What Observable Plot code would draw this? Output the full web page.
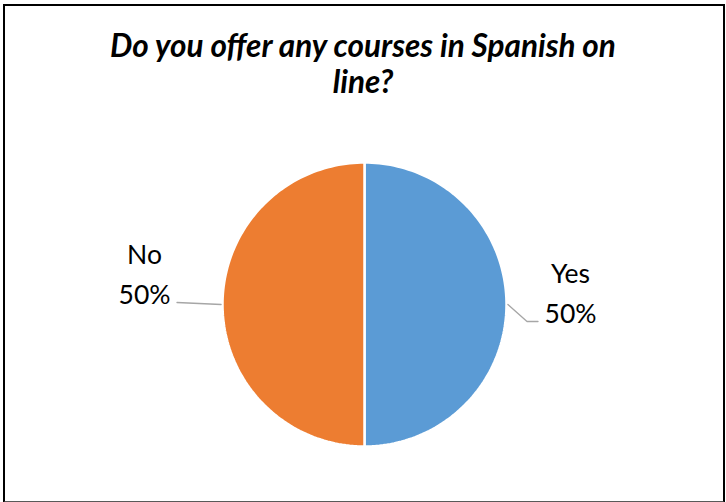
<!DOCTYPE html>
<html>
<head>
<meta charset="utf-8">
<script src="https://cdn.jsdelivr.net/npm/d3@7"></script>
<script src="https://cdn.jsdelivr.net/npm/@observablehq/plot@0.6"></script>
<style>
  html, body { margin: 0; padding: 0; background: #fff; }
  #wrap { position: relative; width: 726px; height: 502px; overflow: hidden; font-family: Lato, "Open Sans", sans-serif; }
  #chart { position: absolute; left: 0; top: 0; }
  #title { position: absolute; left: 0; top: 27px; width: 726px; text-align: center; font-weight: bold; font-style: italic;
           font-size: 31.5px; line-height: 36px; color: #000; white-space: pre-line; }
  #border { position: absolute; left: 3px; top: 4px; width: 718px; height: 495px; border: 2px solid #000; border-bottom-color: #595959; pointer-events: none; }
</style>
</head>
<body>
<div id="wrap">
  <div id="chart"></div>
  <div id="title"></div>
  <div id="border"></div>
</div>
<script>
// ---- data ----
const titleLines = ["Do you offer any courses in Spanish on", "line?"];
const categories = ["Yes", "No"];
const values = [50, 50];
const percentLabels = ["50%", "50%"];

// ---- styles / layout ----
const sliceColors = ["#5B9BD5", "#ED7D31"];
const W = 726, H = 502;
const cx = 364, cy = 304, R = 142;
const labelRadius = 1.5;
const fontSize = 26.5;

document.getElementById("title").textContent = titleLines.join("\n");

const data = categories.map((c, i) => ({cat: c, value: values[i], pct: percentLabels[i]}));
const arcs = d3.pie().sort(null).value(d => d.value)(data);

// slice polygons (unit circle, angle 0 at 12 o'clock, clockwise)
const slicePts = arcs.flatMap(a => {
  const pts = [{cat: a.data.cat, x: 0, y: 0}];
  const n = 120;
  for (let i = 0; i <= n; i++) {
    const t = a.startAngle + (a.endAngle - a.startAngle) * i / n;
    pts.push({cat: a.data.cat, x: Math.sin(t), y: Math.cos(t)});
  }
  return pts;
});

// labels
const nudges = {right: {dx: -7, dy: -14}, left: {dx: -7, dy: -33}};
const labels = arcs.map(a => {
  const m = (a.startAngle + a.endAngle) / 2;
  const side = Math.sin(m) >= 0 ? "right" : "left";
  const px = cx + labelRadius * R * Math.sin(m) + nudges[side].dx;
  const py = cy - labelRadius * R * Math.cos(m) + nudges[side].dy;
  return {cat: a.data.cat, text: `${a.data.cat}\n${a.data.pct}`, side, m, px, py,
          x: (px - cx) / R, y: (cy - py) / R};
});

// leader lines from slice edge to label
const halfText = 27.5, gap = 5, drop = 31;
const leaders = labels.flatMap(l => {
  const edge = {x: 1.01 * Math.sin(l.m), y: 1.01 * Math.cos(l.m)};
  const endPx = l.side === "right" ? l.px - halfText - gap : l.px + halfText + gap;
  const endPy = l.py + drop;
  const end = {x: (endPx - cx) / R, y: (cy - endPy) / R};
  const pts = [{cat: l.cat, ...edge}];
  if (l.side === "right") pts.push({cat: l.cat, x: end.x - 11 / R, y: end.y});
  pts.push({cat: l.cat, ...end});
  return pts;
});

const chart = Plot.plot({
  width: W,
  height: H,
  margin: 0,
  x: {domain: [-1, 1], range: [cx - R, cx + R], axis: null},
  y: {domain: [-1, 1], range: [cy + R, cy - R], axis: null},
  color: {domain: categories, range: sliceColors},
  style: {fontFamily: "Lato, 'Open Sans', sans-serif", background: "white"},
  marks: [
    Plot.line(slicePts, {x: "x", y: "y", z: "cat", fill: "cat", stroke: "white", strokeWidth: 2.5, curve: "linear-closed"}),
    Plot.line(leaders, {x: "x", y: "y", z: "cat", stroke: "#A6A6A6", strokeWidth: 1.3}),
    Plot.text(labels, {x: "x", y: "y", text: "text", fontSize: fontSize, lineHeight: 40 / fontSize, fill: "#000", textAnchor: "middle"})
  ]
});
document.getElementById("chart").appendChild(chart);
</script>
</body>
</html>
